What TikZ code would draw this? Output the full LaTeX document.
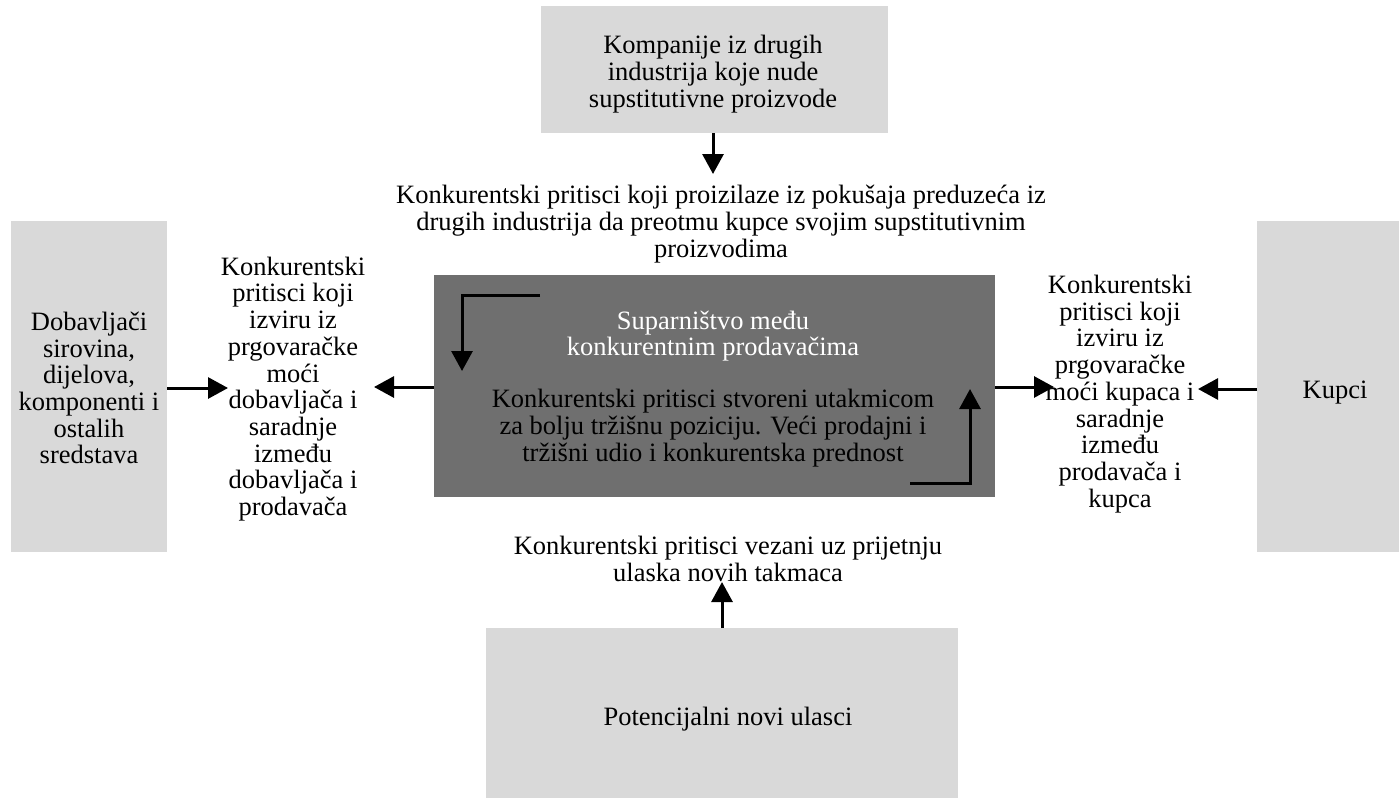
\documentclass[tikz,border=0pt]{standalone}
\usepackage{fontspec}
\setmainfont{Liberation Serif}
\usetikzlibrary{arrows.meta}
\definecolor{lightbox}{HTML}{D9D9D9}
\definecolor{darkbox}{HTML}{6F6F6F}
\begin{document}
\begin{tikzpicture}[x=1pt,y=-1pt,
  txt/.style={align=center,font=\fontsize{26.5}{26.7}\selectfont,inner sep=0pt},
  arr/.style={line width=3pt,-{Triangle[length=20pt,width=21pt]}}]
\useasboundingbox (0,0) rectangle (1399,798);
% boxes
\fill[lightbox] (541,6) rectangle (888,133);
\fill[lightbox] (11,221) rectangle (167,552);
\fill[lightbox] (1257,221) rectangle (1399,552);
\fill[lightbox] (486,628) rectangle (958,798);
\fill[darkbox] (434,275) rectangle (995,497);
% anchors on box edges
\coordinate (topS) at (713,133);
\coordinate (botN) at (722,628);
\coordinate (leftE) at (167,388);
\coordinate (rightW) at (1257,389);
\coordinate (cenW) at (434,387);
\coordinate (cenE) at (995,387);
% texts
\node[txt] (sub) at (713,74) {Kompanije iz drugih\\industrija koje nude\\supstitutivne proizvode};
\node[txt] (subp) at (721,224) {Konkurentski pritisci koji proizilaze iz pokušaja preduzeća iz\\drugih industrija da preotmu kupce svojim supstitutivnim\\proizvodima};
\node[txt] (sup) at (89,388) {Dobavljači\\sirovina,\\dijelova,\\komponenti i\\ostalih\\sredstava};
\node[txt] (supp) at (293,389) {Konkurentski\\pritisci koji\\izviru iz\\prgovaračke\\moći\\dobavljača i\\saradnje\\između\\dobavljača i\\prodavača};
\node[txt] (buy) at (1335,393) {Kupci};
\node[txt] (buyp) at (1120,394) {Konkurentski\\pritisci koji\\izviru iz\\prgovaračke\\moći kupaca i\\saradnje\\između\\prodavača i\\kupca};
\node[txt,text=white] (riv) at (713,336) {Suparništvo među\\konkurentnim prodavačima};
\node[txt] (rivp) at (713,428) {Konkurentski pritisci stvoreni utakmicom\\za bolju tržišnu poziciju. Veći prodajni i\\tržišni udio i konkurentska prednost};
\node[txt] (newp) at (728,559) {Konkurentski pritisci vezani uz prijetnju\\ulaska novih takmaca};
\node[txt] (new) at (728,719) {Potencijalni novi ulasci};
% connectors
\draw[arr] (topS) -- (713,174);
\draw[arr] (botN) -- (722,582);
\draw[arr] (leftE) -- (228,388);
\draw[arr] (cenW) -- (374,387);
\draw[arr] (cenE) -- (1054,387);
\draw[arr] (rightW) -- (1198,389);
% rivalry loop arrows inside the centre box
\draw[arr] (540,295) -- (462,295) -- (462,371);
\draw[arr] (910,483) -- (970,483) -- (970,389);
\end{tikzpicture}
\end{document}
